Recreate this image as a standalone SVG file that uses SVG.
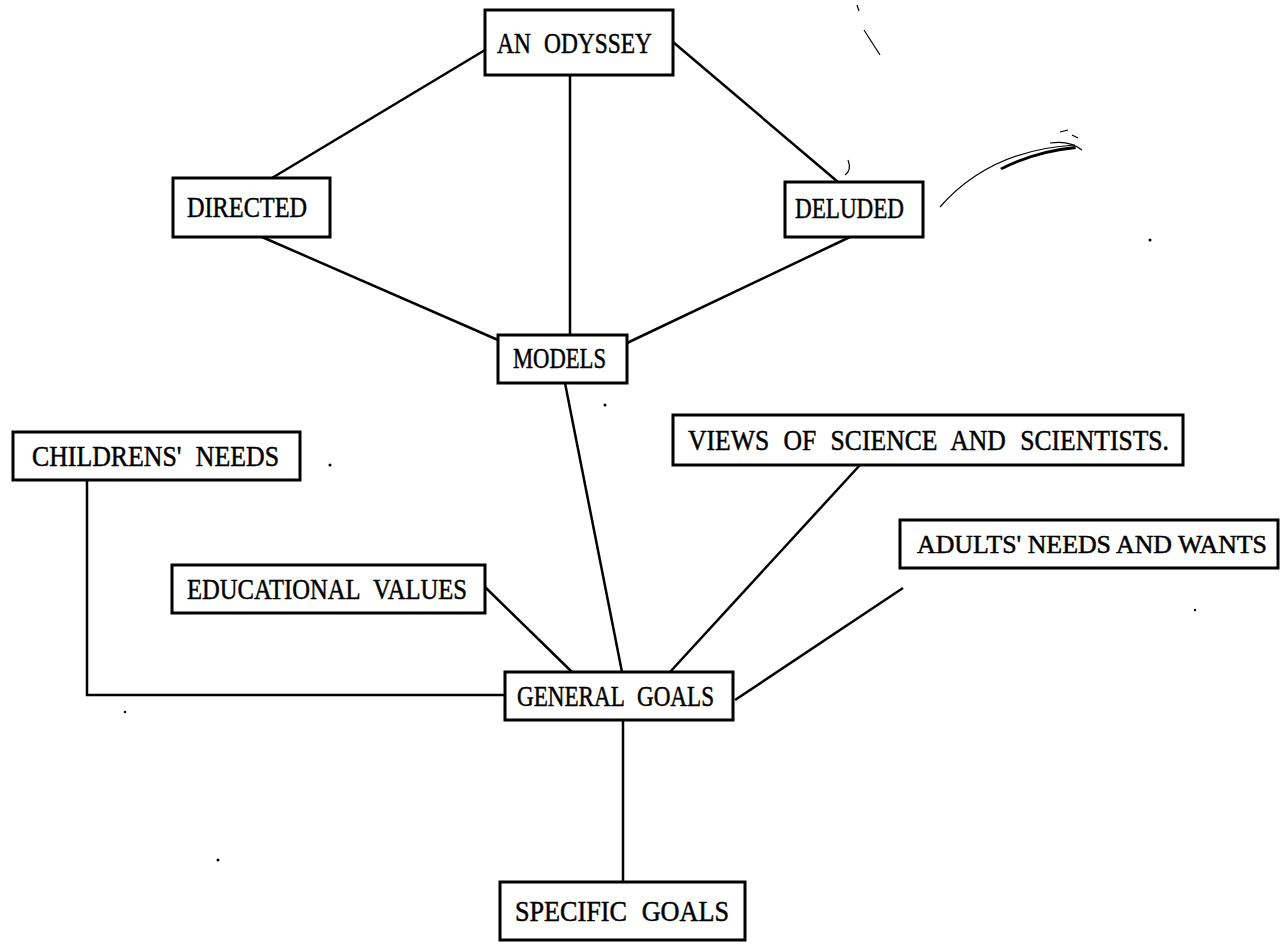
<svg xmlns="http://www.w3.org/2000/svg" width="1280" height="945" viewBox="0 0 1280 945">
<style>
.box{fill:#fff;stroke:#000;stroke-width:3}
.lbl{font-family:"Liberation Serif","DejaVu Serif",serif;font-size:29px;fill:#000;stroke:#000;stroke-width:0.5;word-spacing:9px}
.edge{fill:none;stroke:#000;stroke-width:2.5}
.noise{fill:none;stroke:#000;stroke-width:1.2}
</style>
<rect width="1280" height="945" fill="#fff"/>
<g id="connectors">
<line class="edge" x1="485" y1="50" x2="272" y2="178"/>
<line class="edge" x1="673" y1="42" x2="838" y2="182"/>
<line class="edge" x1="570" y1="75" x2="570" y2="335"/>
<line class="edge" x1="262" y1="237" x2="498" y2="340"/>
<line class="edge" x1="850" y1="237" x2="627" y2="343"/>
<line class="edge" x1="565" y1="383" x2="622" y2="672"/>
<line class="edge" x1="860" y1="465" x2="670" y2="672"/>
<line class="edge" x1="485" y1="587" x2="572" y2="672"/>
<line class="edge" x1="903" y1="588" x2="735" y2="700"/>
<polyline class="edge" points="87,480 87,695 505,695"/>
<line class="edge" x1="623" y1="720" x2="623" y2="882"/>
</g>
<g id="node-odyssey"><rect class="box" x="485" y="10" width="188" height="65"/><text class="lbl" x="497" y="53" textLength="155" lengthAdjust="spacingAndGlyphs">AN ODYSSEY</text></g>
<g id="node-directed"><rect class="box" x="173" y="178" width="157" height="59"/><text class="lbl" x="187" y="217" textLength="120" lengthAdjust="spacingAndGlyphs">DIRECTED</text></g>
<g id="node-deluded"><rect class="box" x="785" y="182" width="138" height="55"/><text class="lbl" x="795" y="218" textLength="109" lengthAdjust="spacingAndGlyphs">DELUDED</text></g>
<g id="node-models"><rect class="box" x="498" y="335" width="129" height="48"/><text class="lbl" x="513" y="368" textLength="93" lengthAdjust="spacingAndGlyphs">MODELS</text></g>
<g id="node-childrens"><rect class="box" x="13" y="432" width="287" height="48"/><text class="lbl" x="32" y="466" textLength="247" lengthAdjust="spacingAndGlyphs">CHILDRENS' NEEDS</text></g>
<g id="node-views"><rect class="box" x="673" y="415" width="510" height="50"/><text class="lbl" x="688" y="450" textLength="481" lengthAdjust="spacingAndGlyphs">VIEWS OF SCIENCE AND SCIENTISTS.</text></g>
<g id="node-educational"><rect class="box" x="172" y="565" width="313" height="48"/><text class="lbl" x="187" y="599" textLength="280" lengthAdjust="spacingAndGlyphs">EDUCATIONAL VALUES</text></g>
<g id="node-adults"><rect class="box" x="900" y="520" width="378" height="48"/><text class="lbl" x="917" y="553" style="font-size:25.5px;word-spacing:0" textLength="350" lengthAdjust="spacingAndGlyphs">ADULTS' NEEDS AND WANTS</text></g>
<g id="node-general"><rect class="box" x="505" y="672" width="228" height="48"/><text class="lbl" x="517" y="706" textLength="197" lengthAdjust="spacingAndGlyphs">GENERAL GOALS</text></g>
<g id="node-specific"><rect class="box" x="500" y="882" width="245" height="58"/><text class="lbl" x="515" y="921" textLength="214" lengthAdjust="spacingAndGlyphs">SPECIFIC GOALS</text></g>
<g id="scan-marks">
<path class="noise" d="M940 207 Q990 150 1075 145"/>
<path d="M1000 168 Q1035 150 1075 146 L1076 149 Q1035 153 1002 170 Z"/>
<path class="noise" d="M1050 143 Q1070 140 1082 150 M1060 132 l8 -2 M1072 135 l6 3"/>
<path class="noise" d="M864 30 L880 55"/>
<path class="noise" d="M857 5 l2 6"/>
<path class="noise" d="M848 160 q4 10 -3 15"/>
<circle cx="1150" cy="240" r="1.5"/>
<circle cx="605" cy="405" r="1.5"/>
<circle cx="330" cy="465" r="1.5"/>
<circle cx="1195" cy="610" r="1.2"/>
<circle cx="125" cy="712" r="1.2"/>
<circle cx="218" cy="860" r="1.5"/>
</g>
</svg>
